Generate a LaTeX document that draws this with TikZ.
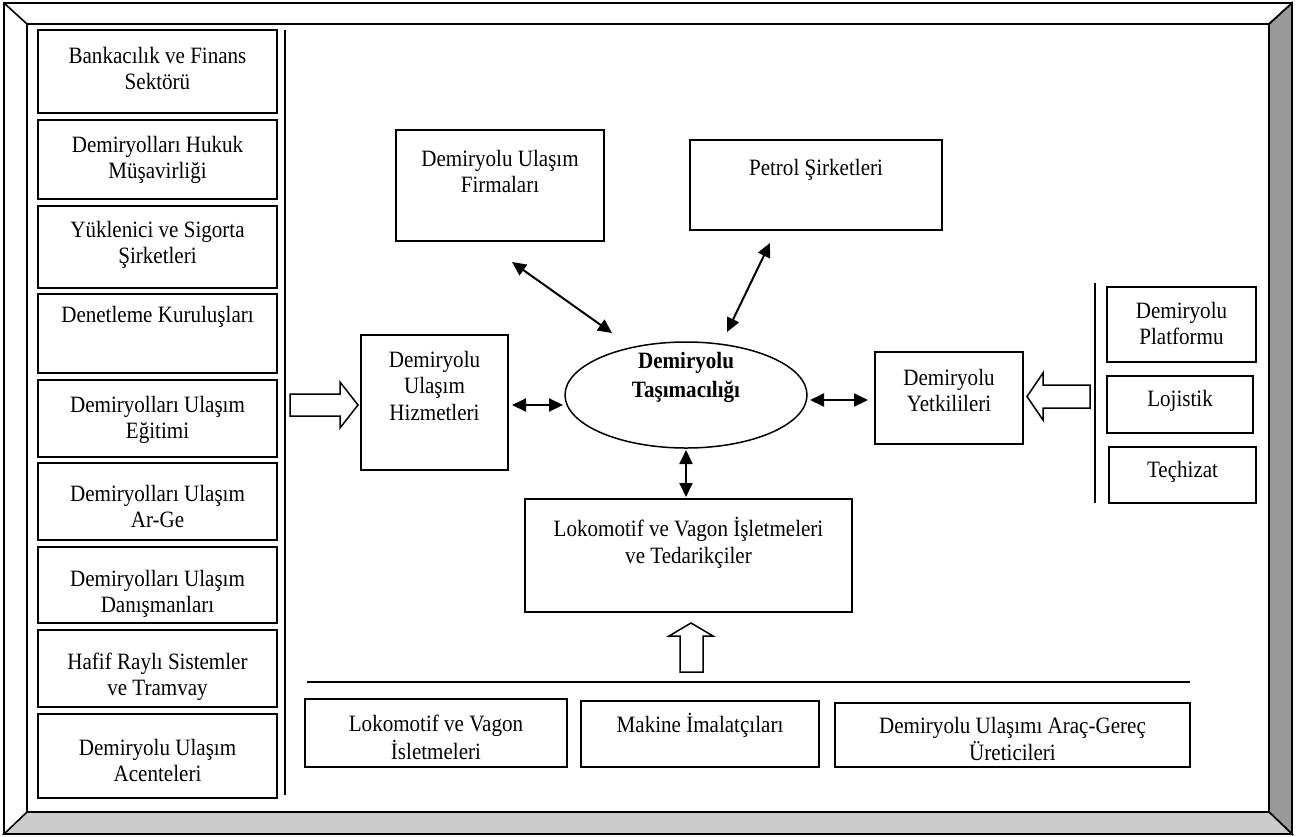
\documentclass[tikz,border=0pt]{standalone}
\usepackage{fontspec}
\setmainfont[FakeStretch=0.9]{Liberation Serif}
\usetikzlibrary{arrows.meta,shapes.geometric}

\definecolor{bevelside}{HTML}{999999}
\definecolor{bevelbottom}{HTML}{CCCCCC}

\tikzset{
  box/.style={draw, line width=1.5pt, inner sep=0pt, outer sep=0pt},
  txt/.style={inner sep=0pt, outer sep=0pt, align=center, anchor=north,
              font=\fontsize{23.4}{26.5}\selectfont},
  dbl/.style={line width=2pt,
              {Triangle[length=14pt,width=13pt]}-{Triangle[length=14pt,width=13pt]}},
  hollow/.style={draw, line width=1.5pt, fill=white, line join=miter},
  rule/.style={line width=1.5pt},
  frame/.style={line width=1.6pt, line join=miter},
}

% box from corner (x1,y1) to (x2,y2), y grows downwards
\newcommand\bx[5]{\node[box, minimum width={#4-#2}, minimum height={#5-#3}]
  (#1) at ({(#2+#4)/2},{(#3+#5)/2}) {};}
% text block centred at x, first baseline at y
\newcommand\tx[5][]{\node[txt,#1] (#2) at ({#3},{#4-18.55}) {\strut #5};}

\begin{document}
\begin{tikzpicture}[x=1pt,y=-1pt]
  \path[use as bounding box, fill=white] (0,0) rectangle (1305,836);

  % bevelled outer frame
  \fill[white] (4,3) rectangle (1292,834);
  \filldraw[frame, fill=bevelside] (1292,3) -- (1292,834) -- (1269,812) -- (1269,24) -- cycle;
  \filldraw[frame, fill=bevelbottom] (4,834) -- (1292,834) -- (1269,812) -- (27,812) -- cycle;
  \draw[frame] (4,3) rectangle (1292,834);
  \draw[frame] (27,24) rectangle (1269,812);
  \draw[frame] (4,3) -- (27,24);
  \draw[frame] (1292,3) -- (1269,24);

  % left column
  \bx{l1}{38}{30}{277}{113}   \tx{l1t}{157.5}{63}{Bankacılık ve Finans\\Sektörü}
  \bx{l2}{38}{120}{277}{199}  \tx{l2t}{157.5}{152}{Demiryolları Hukuk\\Müşavirliği}
  \bx{l3}{38}{206}{277}{288}  \tx{l3t}{157.5}{237}{Yüklenici ve Sigorta\\Şirketleri}
  \bx{l4}{38}{294}{277}{373}  \tx{l4t}{157.5}{322}{Denetleme Kuruluşları}
  \bx{l5}{38}{380}{277}{457}  \tx{l5t}{157.5}{412}{Demiryolları Ulaşım\\Eğitimi}
  \bx{l6}{38}{463}{277}{540}  \tx{l6t}{157.5}{501}{Demiryolları Ulaşım\\Ar-Ge}
  \bx{l7}{38}{547}{277}{623}  \tx{l7t}{157.5}{586}{Demiryolları Ulaşım\\Danışmanları}
  \bx{l8}{38}{630}{277}{707}  \tx{l8t}{157.5}{669}{Hafif Raylı Sistemler\\ve Tramvay}
  \bx{l9}{38}{714}{277}{798}  \tx{l9t}{157.5}{755}{Demiryolu Ulaşım\\Acenteleri}
  \draw[rule] (285,30) -- (285,795);

  % centre
  \bx{firma}{396}{130}{604}{241}   \tx{firmat}{500}{166}{Demiryolu Ulaşım\\Firmaları}
  \bx{petrol}{690}{140}{942}{230}  \tx{petrolt}{816}{175}{Petrol Şirketleri}
  \bx{hizmet}{361}{335}{508}{470}  \tx{hizmett}{434.5}{367}{Demiryolu\\Ulaşım\\Hizmetleri}
  \node[draw, ellipse, line width=1.5pt, inner sep=0pt, outer sep=0pt,
        minimum width=242, minimum height=106] (core) at (686,395) {};
  \tx[font=\fontsize{23.4}{29}\selectfont\bfseries]{coret}{686}{367}{Demiryolu\\Taşımacılığı}
  \bx{yetki}{875}{352}{1023}{444}  \tx{yetkit}{949}{385}{Demiryolu\\Yetkilileri}
  \bx{loko}{525}{499}{852}{612}    \tx{lokot}{688.5}{536}{Lokomotif ve Vagon İşletmeleri\\ve Tedarikçiler}

  % right column
  \draw[rule] (1095,283) -- (1095,503);
  \bx{platf}{1107}{287}{1256}{362}   \tx{platft}{1181.5}{318}{Demiryolu\\Platformu}
  \bx{lojis}{1107}{376}{1253}{433}   \tx{lojist}{1180}{406}{Lojistik}
  \bx{techiz}{1109}{447}{1256}{503}  \tx{techizt}{1182.5}{477}{Teçhizat}

  % bottom row
  \draw[rule] (307,682) -- (1190,682);
  \bx{b1}{305}{699}{567}{767}   \tx{b1t}{436}{731}{Lokomotif ve Vagon\\İsletmeleri}
  \bx{b2}{581}{701}{819}{767}   \tx{b2t}{700}{732}{Makine İmalatçıları}
  \bx{b3}{835}{703}{1190}{767}  \tx{b3t}{1012.5}{733}{Demiryolu Ulaşımı Araç-Gereç\\Üreticileri}

  % hollow block arrows
  \draw[hollow] (290,394) -- (340,394) -- (340,382) -- (358,405) -- (340,428)
                -- (340,416) -- (290,416) -- cycle;
  \draw[hollow] (1090,385) -- (1043,385) -- (1043,373) -- (1027,396.5) -- (1043,420)
                -- (1043,408) -- (1090,408) -- cycle;
  \draw[hollow] (680,672) -- (680,636) -- (669,636) -- (691,623) -- (713,636)
                -- (703,636) -- (703,672) -- cycle;

  % two-way links
  \coordinate (fa) at ([shift={(12,21)}]firma.south);
  \coordinate (ca) at ([shift={(-74,-9)}]core.north);
  \draw[dbl] (fa) -- (ca);
  \coordinate (pa) at ([shift={(-46,13)}]petrol.south);
  \coordinate (cb) at ([shift={(41,-10)}]core.north);
  \draw[dbl] (pa) -- (cb);
  \coordinate (hz) at ([shift={(4,2.5)}]hizmet.east);
  \draw[dbl, shorten >=2pt] (hz) -- (hz -| core.west);
  \coordinate (yz) at ([shift={(-7,2)}]yetki.west);
  \draw[dbl, shorten <=3pt] (yz -| core.east) -- (yz);
  \draw[dbl, shorten <=2pt, shorten >=2pt] (core.south) -- (core.south |- loko.north);
\end{tikzpicture}
\end{document}
